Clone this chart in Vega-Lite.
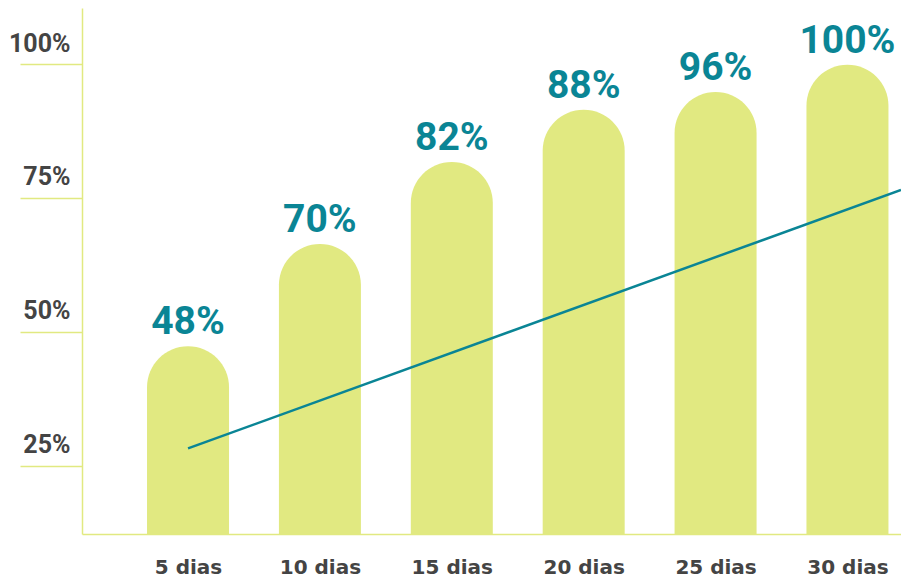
{
  "$schema": "https://vega.github.io/schema/vega-lite/v6.json",
  "width": 819,
  "height": 526,
  "padding": {"left": 82, "top": 8, "right": 0, "bottom": 50},
  "autosize": {"type": "none"},
  "background": "white",
  "config": {"view": {"stroke": null}},
  "datasets": {
    "bars": [
      {"i": 1, "dia": "5 dias", "v": 47.3, "label": "48%"},
      {"i": 2, "dia": "10 dias", "v": 66.4, "label": "70%"},
      {"i": 3, "dia": "15 dias", "v": 81.7, "label": "82%"},
      {"i": 4, "dia": "20 dias", "v": 91.5, "label": "88%"},
      {"i": 5, "dia": "25 dias", "v": 94.8, "label": "96%"},
      {"i": 6, "dia": "30 dias", "v": 99.9, "label": "100%"}
    ],
    "trend": [
      {"i": 1, "v": 28.2},
      {"i": 6.406, "v": 76.5}
    ]
  },
  "layer": [
    {
      "data": {"name": "bars"},
      "mark": {"type": "bar", "width": 82, "color": "#e1e981", "cornerRadiusTopLeft": 41, "cornerRadiusTopRight": 41},
      "encoding": {
        "x": {
          "field": "i", "type": "quantitative",
          "scale": {"domain": [0.196, 6.406], "nice": false, "zero": false, "padding": 0},
          "axis": {
            "values": [1, 2, 3, 4, 5, 6],
            "labelExpr": "['5 dias','10 dias','15 dias','20 dias','25 dias','30 dias'][datum.value-1]",
            "title": null, "ticks": false, "grid": false,
            "domainColor": "#e1e981", "domainWidth": 1.5,
            "labelFont": "DejaVu Sans", "labelFontWeight": "bold", "labelFontSize": 20,
            "labelColor": "#444444", "labelPadding": 23, "labelFlush": false
          }
        },
        "y": {
          "field": "v", "type": "quantitative",
          "scale": {"domain": [12.2, 110.5], "nice": false, "zero": false, "padding": 0},
          "axis": {
            "values": [25, 50, 75, 100],
            "labelExpr": "datum.value + '%'",
            "title": null, "grid": false,
            "tickSize": 62, "tickColor": "#e1e981", "tickWidth": 1.5,
            "domainColor": "#e1e981", "domainWidth": 1.5,
            "labelPadding": -50, "labelOffset": -21,
            "labelFont": "Roboto", "labelFontWeight": "bold", "labelFontSize": 25,
            "labelColor": "#444444", "labelAlign": "right"
          }
        },
        "y2": {"datum": 12.2}
      }
    },
    {
      "data": {"name": "trend"},
      "mark": {"type": "line", "color": "#0a8595", "strokeWidth": 2.5},
      "encoding": {
        "x": {"field": "i", "type": "quantitative"},
        "y": {"field": "v", "type": "quantitative"}
      }
    },
    {
      "data": {"name": "bars"},
      "mark": {"type": "text", "align": "center", "baseline": "alphabetic", "dy": -12, "font": "Roboto", "fontWeight": "bold", "fontSize": 39, "color": "#0a8595"},
      "encoding": {
        "x": {"field": "i", "type": "quantitative"},
        "y": {"field": "v", "type": "quantitative"},
        "text": {"field": "label"}
      }
    }
  ]
}
